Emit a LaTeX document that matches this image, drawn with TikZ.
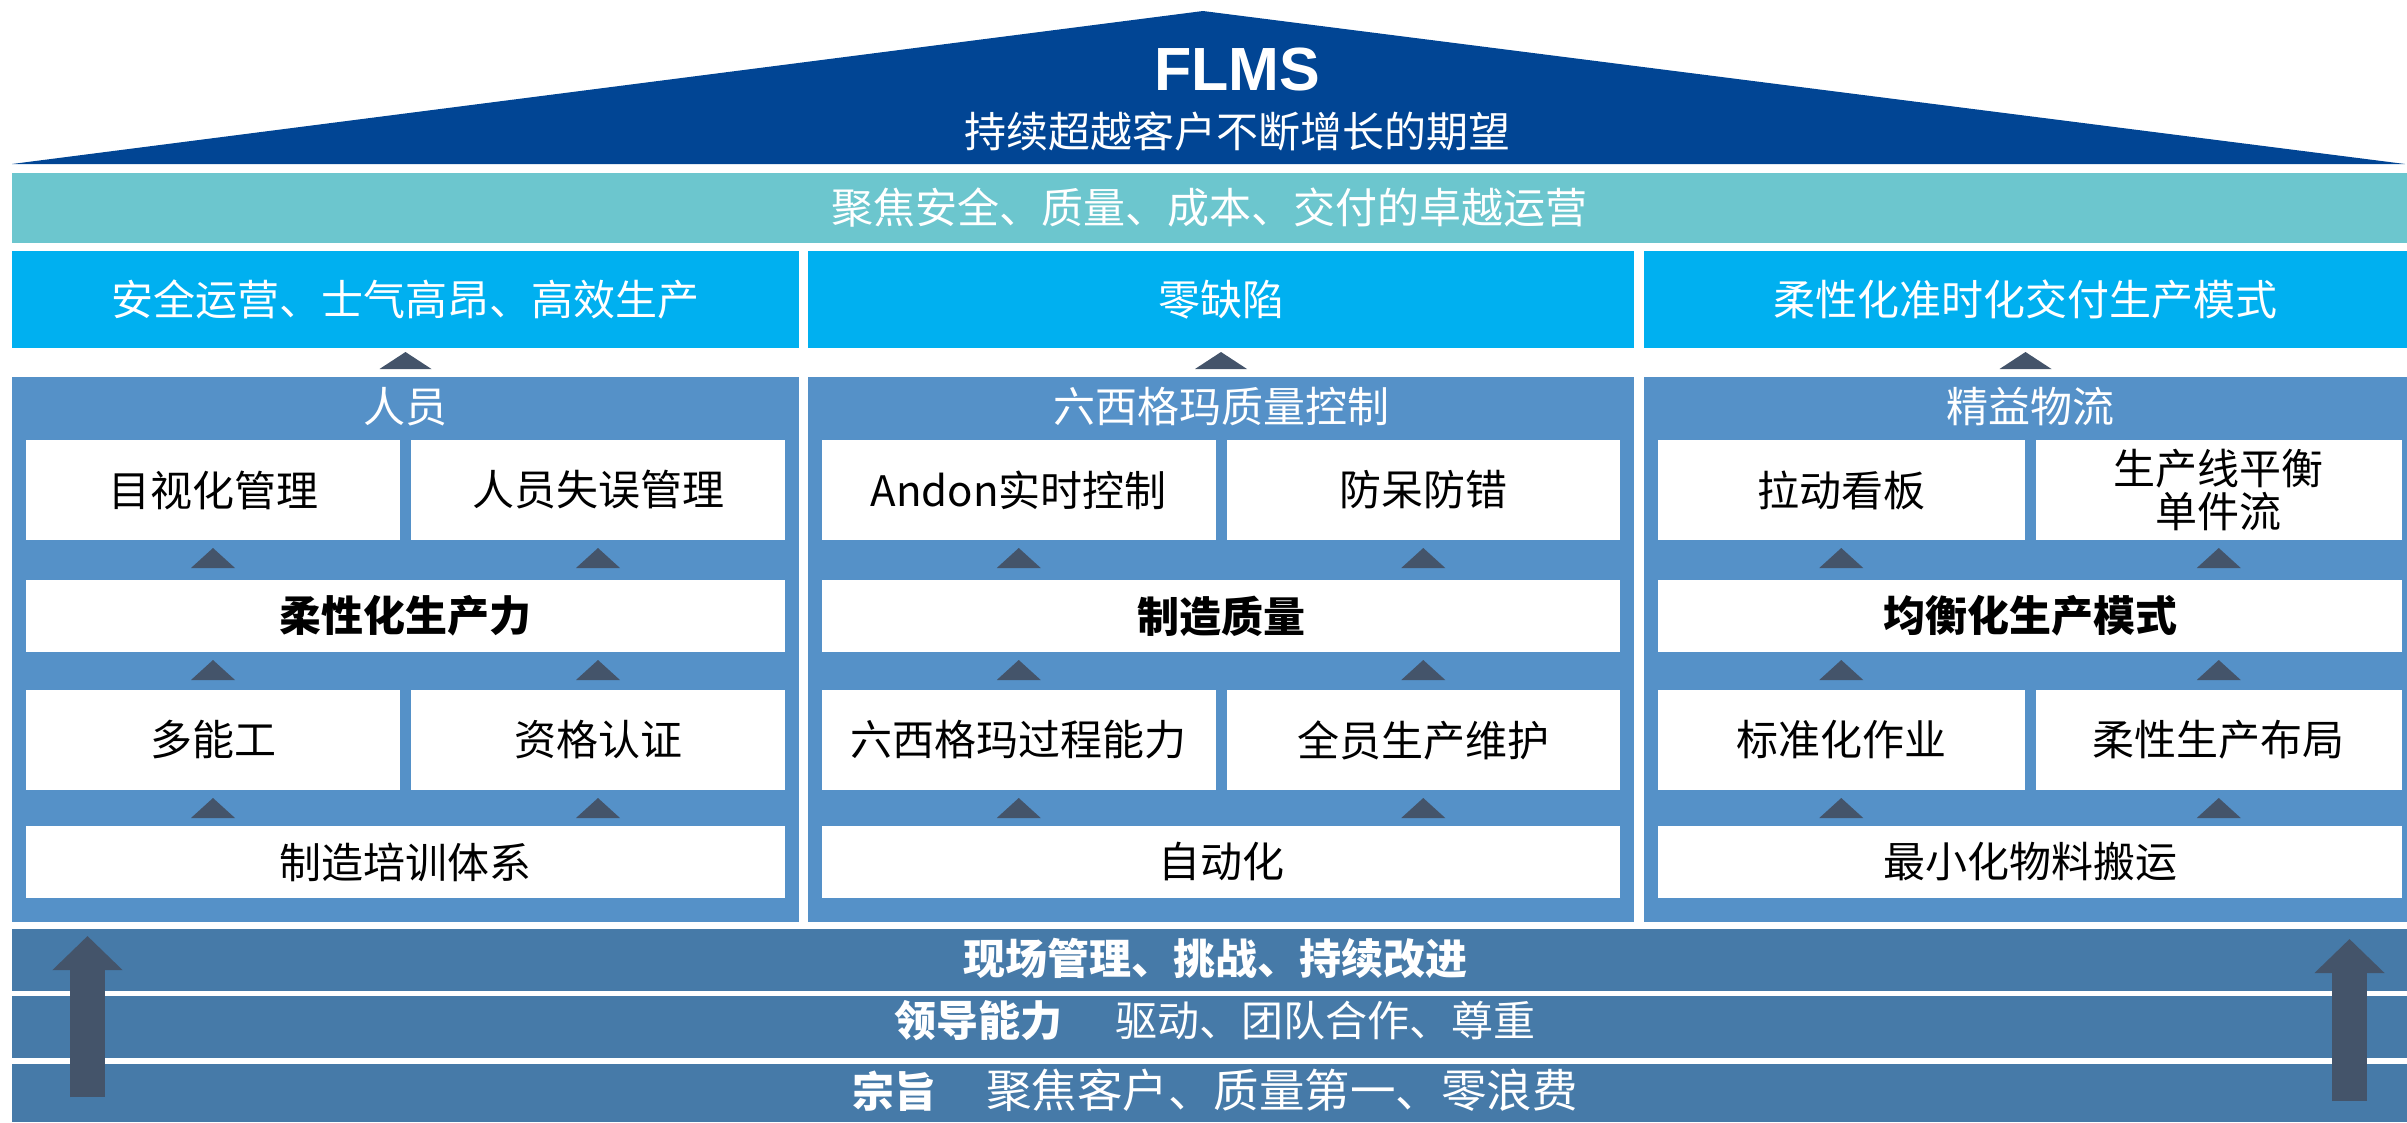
\documentclass[tikz,border=0pt]{standalone}
\usepackage{fontspec}
\setmainfont{Noto Sans CJK SC}
\newfontfamily\flmsfont{Liberation Sans}
\usepackage{tikz}
\usetikzlibrary{arrows.meta,positioning}

\definecolor{roofblue}{RGB}{1,69,148}
\definecolor{opsteal}{RGB}{108,198,206}
\definecolor{goalcyan}{RGB}{0,176,240}
\definecolor{pillarblue}{RGB}{85,145,200}
\definecolor{bandblue}{RGB}{70,122,168}
\definecolor{slate}{RGB}{68,84,106}

\begin{document}
\begin{tikzpicture}[
  x=1pt, y=-1pt,
  every node/.style={inner sep=0pt, outer sep=0pt},
  txt/.style={font=\fontsize{42}{43}\selectfont},
  btxt/.style={font=\fontsize{42}{43}\selectfont\bfseries},
  ops/.style={txt, fill=opsteal, text=white, minimum width=2395pt, minimum height=70pt},
  goal/.style={txt, fill=goalcyan, text=white, minimum height=97pt},
  pillar/.style={fill=pillarblue, minimum height=545pt},
  ptitle/.style={txt, text=white},
  half/.style={txt, fill=white, align=center, minimum height=100pt, minimum width=#1},
  wide/.style={fill=white, minimum height=72pt, minimum width=#1},
  band/.style={fill=bandblue, minimum width=2395pt},
  bandtxt/.style={txt, text=white},
  bigarrow/.style={slate, line width=35pt, -{Triangle[length=34pt, width=68pt]}},
  toptri/.pic={\fill[slate] (0,4) -- (26,21) -- (-26,21) -- cycle;},
  uptri/.pic={\fill[slate] (0,8) -- (22,28) -- (-22,28) -- cycle;}
]
\useasboundingbox (0,0) rectangle (2407,1122);

% roof
\fill[roofblue] (12,164) -- (1203,11) -- (2405,164) -- cycle;
\node[font=\flmsfont\bfseries\fontsize{61}{61}\selectfont, text=white] (flms) at (1237,69) {FLMS};
\node[ptitle] (vision) at (1237,131) {持续超越客户不断增长的期望};

% operations band and goals
\node[ops] (excel) at (1209.5,208) {聚焦安全、质量、成本、交付的卓越运营};
\node[goal, minimum width=787pt] (safety) at (405.5,299.5) {安全运营、士气高昂、高效生产};
\node[goal, minimum width=826pt] (zerodef) at (1221,299.5) {零缺陷};
\node[goal, minimum width=763pt] (jit) at (2025.5,299.5) {柔性化准时化交付生产模式};

% pillars
\node[pillar, minimum width=787pt] (people) at (405.5,649.5) {};
\node[pillar, minimum width=826pt] (sigma) at (1221,649.5) {};
\node[pillar, minimum width=763pt] (lean) at (2025.5,649.5) {};
\node[ptitle] (peopleT) at (405.5,407) {人员};
\node[ptitle] (sigmaT) at (1221,407) {六西格玛质量控制};
\node[ptitle] (leanT) at (2030,407) {精益物流};

% people pillar
\node[half=374pt] (visual) at (213,490) {目视化管理};
\node[half=374pt] (error) at (598,490) {人员失误管理};
\node[wide=759pt, btxt] (flexcap) at (405.5,616) {柔性化生产力};
\node[half=374pt] (multi) at (213,740) {多能工};
\node[half=374pt] (qualif) at (598,740) {资格认证};
\node[wide=759pt, txt] (training) at (405.5,862) {制造培训体系};

% quality pillar
\node[half=393.5pt] (andon) at (1018.75,490) {Andon实时控制};
\node[half=393.5pt] (poka) at (1423.25,490) {防呆防错};
\node[wide=798pt, btxt] (mfgq) at (1221,616) {制造质量};
\node[half=393.5pt] (sixcap) at (1018.75,740) {六西格玛过程能力};
\node[half=393.5pt] (tpm) at (1423.25,740) {全员生产维护};
\node[wide=798pt, txt] (autom) at (1221,862) {自动化};

% lean pillar
\node[half=366.5pt] (kanban) at (1841.25,490) {拉动看板};
\node[half=366.5pt] (balance) at (2218.75,490) {生产线平衡\\单件流};
\node[wide=744pt, btxt] (heijunka) at (2030,616) {均衡化生产模式};
\node[half=366.5pt] (stdwork) at (1841.25,740) {标准化作业};
\node[half=366.5pt] (flexlay) at (2218.75,740) {柔性生产布局};
\node[wide=744pt, txt] (handling) at (2030,862) {最小化物料搬运};

% small up triangles
\pic at (safety.south) {toptri};
\pic at (zerodef.south) {toptri};
\pic at (jit.south) {toptri};
\pic at (visual.south) {uptri};
\pic at (error.south) {uptri};
\pic at (flexcap.south -| multi) {uptri};
\pic at (flexcap.south -| qualif) {uptri};
\pic at (multi.south) {uptri};
\pic at (qualif.south) {uptri};
\pic at (andon.south) {uptri};
\pic at (poka.south) {uptri};
\pic at (mfgq.south -| sixcap) {uptri};
\pic at (mfgq.south -| tpm) {uptri};
\pic at (sixcap.south) {uptri};
\pic at (tpm.south) {uptri};
\pic at (kanban.south) {uptri};
\pic at (balance.south) {uptri};
\pic at (heijunka.south -| stdwork) {uptri};
\pic at (heijunka.south -| flexlay) {uptri};
\pic at (stdwork.south) {uptri};
\pic at (flexlay.south) {uptri};

% foundation bands
\node[band, minimum height=62pt] (gemba) at (1209.5,960) {};
\node[band, minimum height=62pt] (lead) at (1209.5,1027) {};
\node[band, minimum height=58pt] (purpose) at (1209.5,1093) {};
\node[bandtxt, btxt] (gembaT) at (1215,958) {现场管理、挑战、持续改进};
\node[bandtxt] (leadT) at (1215,1021) {{\bfseries 领导能力}\hspace{1.25em}驱动、团队合作、尊重};
\node[bandtxt] (purposeT) at (1215,1090) {{\bfseries 宗旨}\hspace{1.2em}{\fontsize{45.5}{46}\selectfont 聚焦客户、质量第一、零浪费}};

% big arrows
\coordinate (lbase) at (87.5,1097);
\coordinate (ltip) at (87.5,936);
\coordinate (rbase) at (2349.5,1101);
\coordinate (rtip) at (2349.5,939);
\draw[bigarrow] (lbase) -- (ltip);
\draw[bigarrow] (rbase) -- (rtip);
\end{tikzpicture}
\end{document}
